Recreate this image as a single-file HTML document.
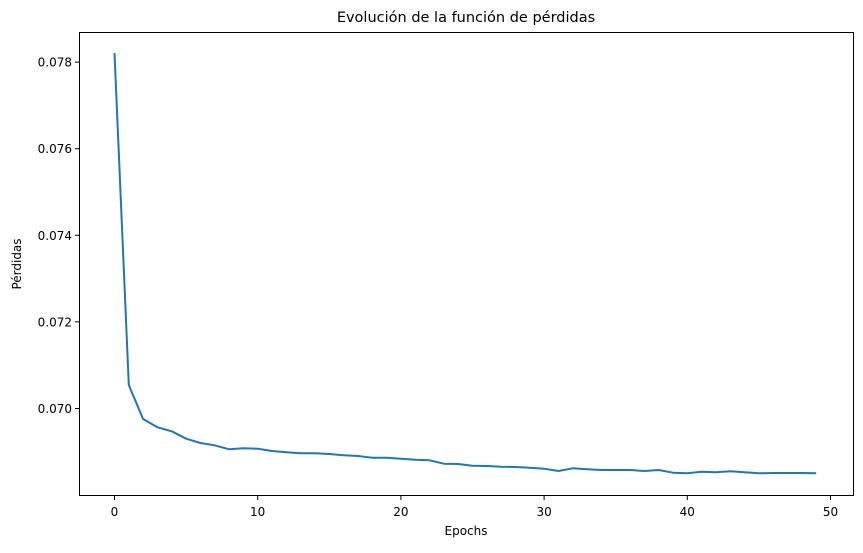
<!DOCTYPE html>
<html><head><meta charset="utf-8">
<style>
body{margin:0;background:#fff;}
svg text{font-family:"DejaVu Sans","Liberation Sans",sans-serif;fill:#000;}
</style></head>
<body>
<svg id="chart" width="863" height="548" xmlns="http://www.w3.org/2000/svg">
<rect x="0" y="0" width="863" height="548" fill="#fff"/>
<text x="466" y="22" text-anchor="middle" font-size="14.5">Evolución de la función de pérdidas</text>
<g id="xticks"></g><g id="yticks"></g>
<polyline id="line" fill="none" stroke="#1f77b4" stroke-width="2" stroke-linejoin="round"/>
<rect x="79.5" y="32.5" width="774" height="463" fill="none" stroke="#000" stroke-width="1"/>
<text x="466" y="535" text-anchor="middle" font-size="12">Epochs</text>
<text transform="translate(21,264) rotate(-90)" text-anchor="middle" font-size="12">Pérdidas</text>
</svg>
<script>
const losses=[0.07821,0.070543,0.069758,0.069566,0.069473,0.069303,0.069203,0.069150,0.069058,0.069081,0.069072,0.069018,0.068988,0.068965,0.068965,0.068949,0.068919,0.068903,0.068864,0.068864,0.068841,0.068818,0.068804,0.068725,0.068718,0.068679,0.068672,0.068656,0.068649,0.068633,0.068610,0.068557,0.068619,0.068596,0.068580,0.068580,0.068580,0.068557,0.068580,0.068517,0.068503,0.068540,0.068527,0.068550,0.068527,0.068503,0.068510,0.068510,0.068510,0.068503];
const xTicks=[0,10,20,30,40,50];
const yTicks=[0.070,0.072,0.074,0.076,0.078];
const yTickLabels=["0.070","0.072","0.074","0.076","0.078"];
const X=v=>114.5+v*14.32;
const Y=v=>408.5-(v-0.070)/0.002*86.6;
const NS="http://www.w3.org/2000/svg";
const line=document.getElementById('line');
line.setAttribute('points',losses.map((v,i)=>X(i).toFixed(1)+','+Y(v).toFixed(1)).join(' '));
const xg=document.getElementById('xticks');
xTicks.forEach(t=>{
 const l=document.createElementNS(NS,'line');
 
 
 l.setAttribute('x1',X(t));l.setAttribute('x2',X(t));l.setAttribute('y1',496);l.setAttribute('y2',500);l.setAttribute('stroke','#000');
 xg.appendChild(l);
 const tx=document.createElementNS(NS,'text');
 
 
 tx.setAttribute('x',X(t));tx.setAttribute('y',516);tx.setAttribute('text-anchor','middle');tx.setAttribute('font-size','12');
 tx.textContent=t;xg.appendChild(tx);
});
const yg=document.getElementById('yticks');
yTicks.forEach((t,i)=>{
 const l=document.createElementNS(NS,'line');
 
 
 l.setAttribute('x1',75);l.setAttribute('x2',79);l.setAttribute('y1',Y(t));l.setAttribute('y2',Y(t));l.setAttribute('stroke','#000');
 yg.appendChild(l);
 const tx=document.createElementNS(NS,'text');
 
 
 tx.setAttribute('x',72);tx.setAttribute('y',Y(t)+4.5);tx.setAttribute('text-anchor','end');tx.setAttribute('font-size','12');
 tx.textContent=yTickLabels[i];yg.appendChild(tx);
});
</script>
</body></html>
